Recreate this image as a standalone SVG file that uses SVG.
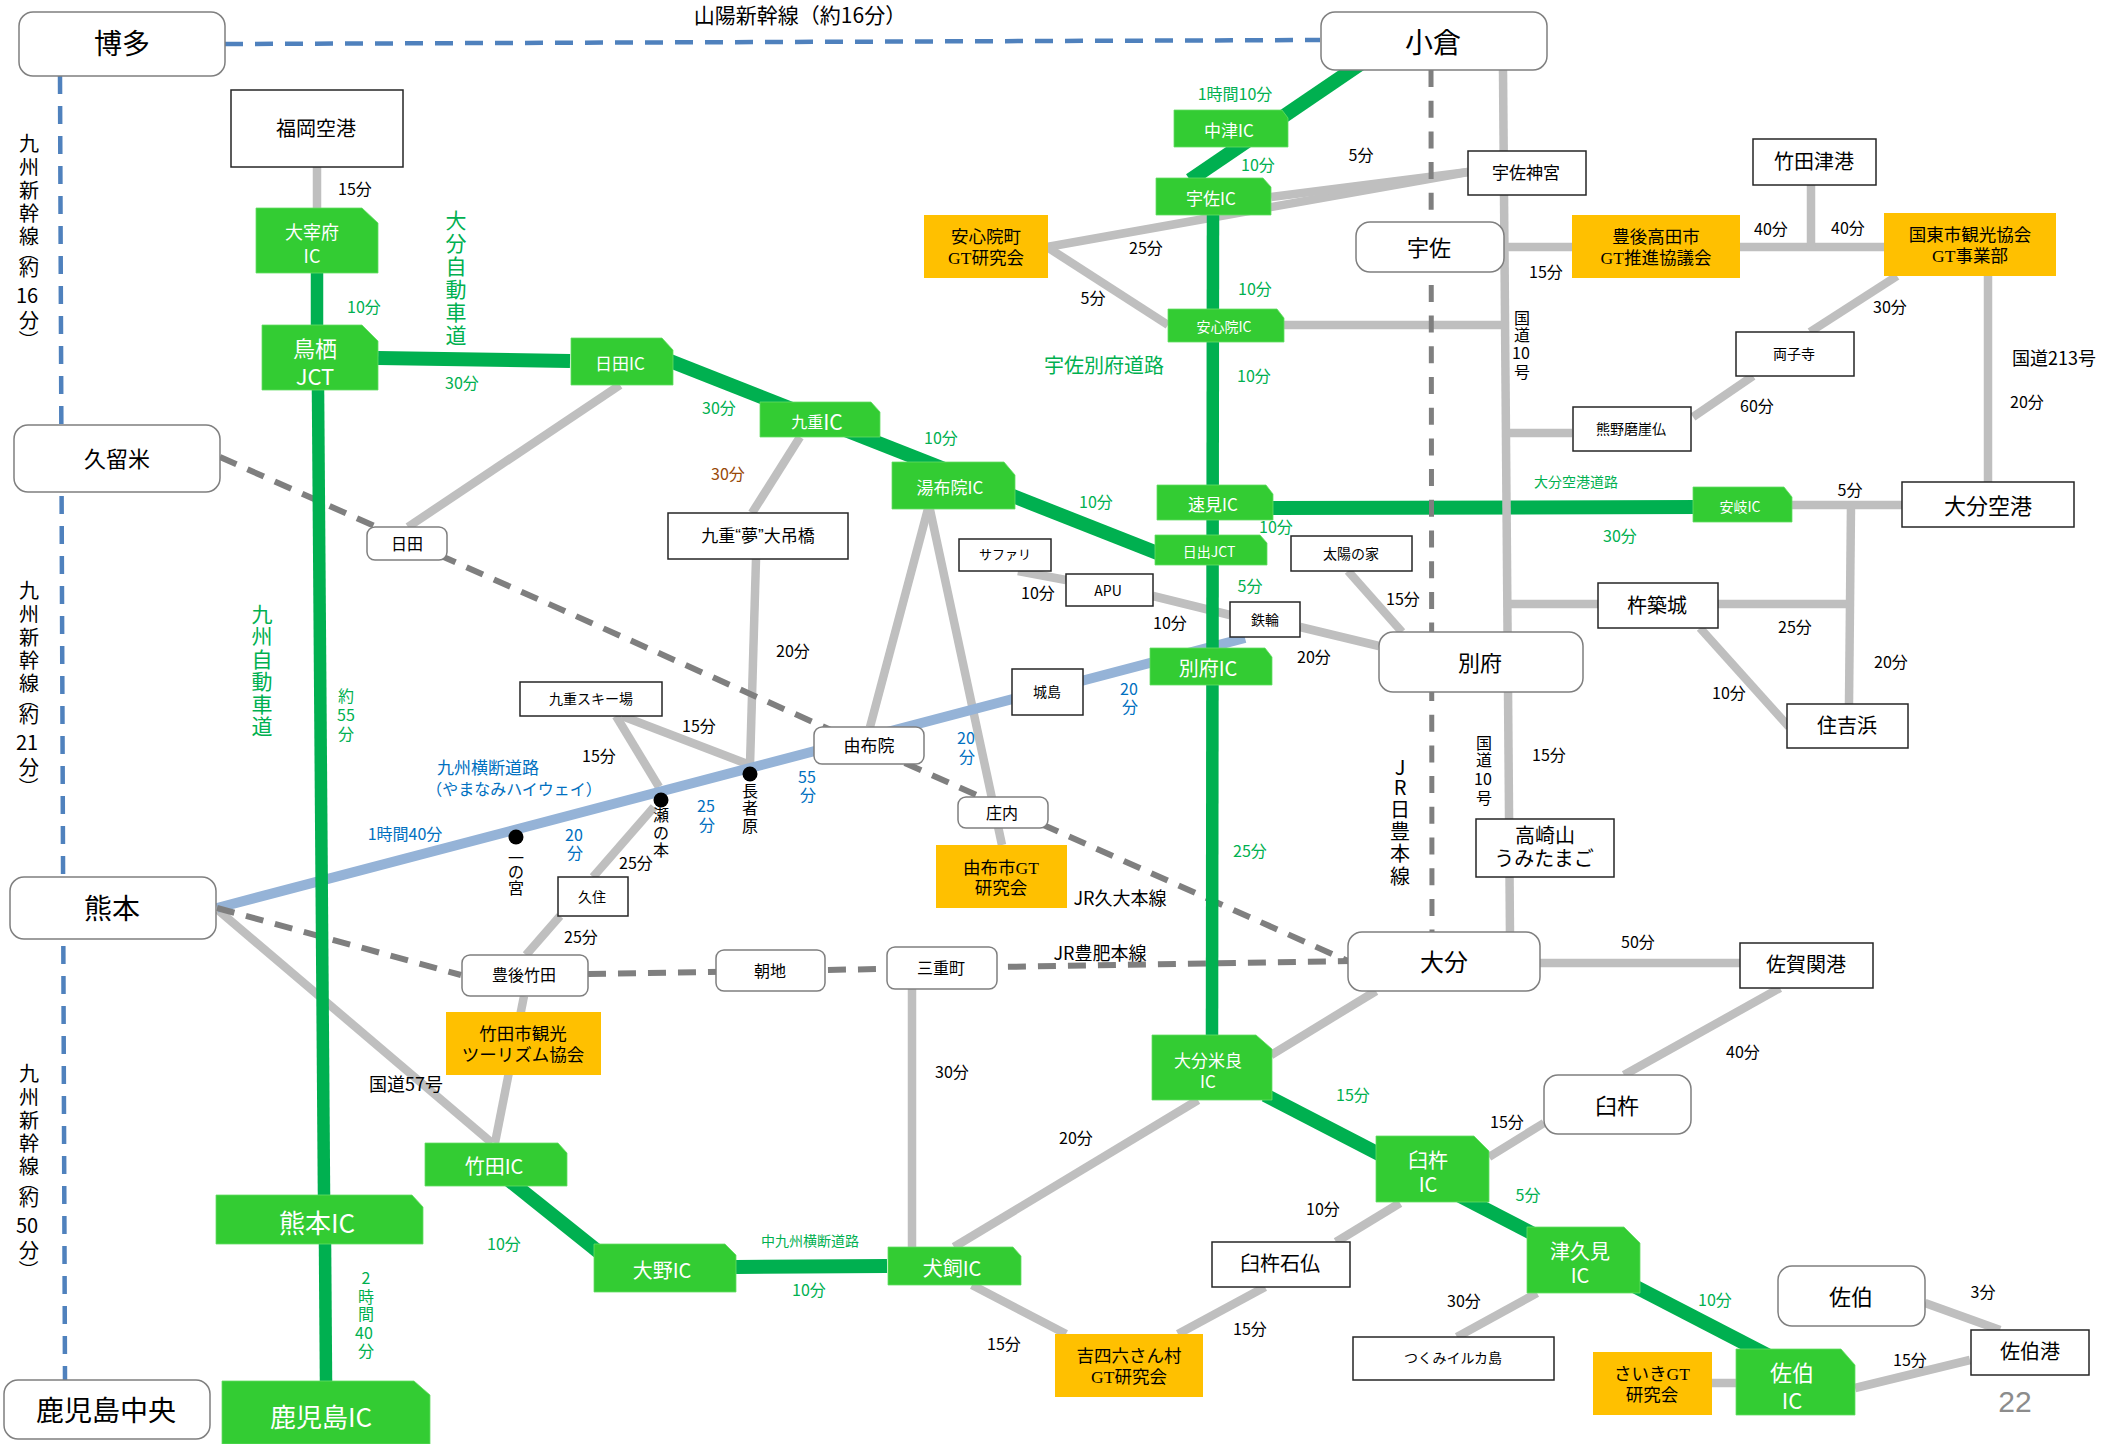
<svg xmlns="http://www.w3.org/2000/svg" width="2118" height="1444" viewBox="0 0 2118 1444">
<style>
text{font-family:"Noto Sans CJK JP","Noto Sans",sans-serif;text-anchor:middle;dominant-baseline:central;fill:#000}
text:not([transform]){transform:translateY(-1.5px)}
text.m{transform:none;font-family:"Liberation Serif","Noto Sans CJK JP",serif;font-size:17.5px}
.w{fill:#fff}.gt{fill:#00b050}.bt{fill:#0070c0}.br{fill:#984807}
.f13{font-size:13px}.f14{font-size:14px}.f16{font-size:16px}.f17{font-size:17px}.f18{font-size:18px}.f20{font-size:20px}.f21{font-size:21px}.f22{font-size:22px}.f24{font-size:24px}.f26{font-size:26px}.f28{font-size:28px}
.c path,.c line{fill:none}
.g{stroke:#bfbfbf;stroke-width:8.5}
.h{stroke:#00b050;stroke-width:14}
.v{stroke:#00b050;stroke-width:12.5}
.b{stroke:#95b3d7;stroke-width:10}
.jr{stroke:#7f7f7f;stroke-width:6;stroke-dasharray:18 12}
.jv{stroke:#7f7f7f;stroke-width:5;stroke-dasharray:17 13.7}
.sk{stroke:#4f81bd;stroke-width:4.5;stroke-dasharray:18 12}
.r{fill:#fff;stroke:#7f7f7f;stroke-width:1.5}
.q{fill:#fff;stroke:#262626;stroke-width:1.5}
.o{fill:#ffc000}
.i{fill:#33cc33;stroke:#66dd66;stroke-width:.8}
</style>
<g id="connectors" class="c">
<line class="h" x1="1273" y1="508" x2="1700" y2="507"/>
<line class="g" x1="317" y1="167" x2="317" y2="208"/>
<line class="g" x1="620" y1="385" x2="408" y2="527"/>
<line class="g" x1="800" y1="437" x2="752" y2="513"/>
<line class="g" x1="756" y1="559" x2="750" y2="765"/>
<line class="g" x1="622" y1="716" x2="750" y2="765"/>
<line class="g" x1="616" y1="716" x2="659" y2="787"/>
<line class="g" x1="654" y1="807" x2="593" y2="877"/>
<line class="g" x1="560" y1="916" x2="526" y2="955"/>
<line class="g" x1="929" y1="505" x2="870" y2="727"/>
<line class="g" x1="929" y1="505" x2="1002" y2="845"/>
<line class="g" x1="218" y1="910" x2="492" y2="1143"/>
<line class="g" x1="524" y1="996" x2="495" y2="1143"/>
<line class="g" x1="1503" y1="70" x2="1510" y2="935"/>
<line class="g" x1="1047" y1="247" x2="1468" y2="172"/>
<line class="g" x1="1271" y1="197" x2="1468" y2="172"/>
<line class="g" x1="1047" y1="247" x2="1168" y2="325"/>
<line class="g" x1="1284" y1="325" x2="1503" y2="325"/>
<line class="g" x1="1500" y1="247" x2="1884" y2="247"/>
<line class="g" x1="1811" y1="185" x2="1811" y2="247"/>
<line class="g" x1="1988" y1="276" x2="1988" y2="482"/>
<line class="g" x1="1897" y1="276" x2="1810" y2="332"/>
<line class="g" x1="1753" y1="376" x2="1693" y2="417"/>
<line class="g" x1="1507" y1="433" x2="1572" y2="433"/>
<line class="g" x1="1792" y1="505" x2="1902" y2="505"/>
<line class="g" x1="1851" y1="505" x2="1849" y2="704"/>
<line class="g" x1="1508" y1="604" x2="1851" y2="604"/>
<line class="g" x1="1700" y1="628" x2="1789" y2="727"/>
<line class="g" x1="1348" y1="571" x2="1402" y2="632"/>
<line class="g" x1="1018" y1="571" x2="1066" y2="580"/>
<line class="g" x1="1153" y1="596" x2="1230" y2="615"/>
<line class="g" x1="1300" y1="627" x2="1379" y2="646"/>
<line class="g" x1="1540" y1="963" x2="1740" y2="963"/>
<line class="g" x1="1780" y1="988" x2="1624" y2="1075"/>
<line class="g" x1="1376" y1="991" x2="1271" y2="1055"/>
<line class="g" x1="1198" y1="1100" x2="954" y2="1247"/>
<line class="g" x1="912" y1="989" x2="912" y2="1247"/>
<line class="g" x1="972" y1="1285" x2="1066" y2="1334"/>
<line class="g" x1="1178" y1="1334" x2="1265" y2="1287"/>
<line class="g" x1="1336" y1="1242" x2="1400" y2="1203"/>
<line class="g" x1="1489" y1="1157" x2="1544" y2="1123"/>
<line class="g" x1="1537" y1="1293" x2="1457" y2="1337"/>
<line class="g" x1="1712" y1="1383" x2="1736" y2="1383"/>
<line class="g" x1="1925" y1="1303" x2="2000" y2="1330"/>
<line class="g" x1="1855" y1="1388" x2="1970" y2="1360"/>
<line class="b" x1="217" y1="908" x2="1245" y2="638"/>
<line class="jr" x1="220" y1="457" x2="1350" y2="962"/>
<line class="jr" x1="217" y1="908" x2="461" y2="975"/>
<line class="jr" x1="588" y1="974" x2="1350" y2="961"/>
<line class="v" x1="317" y1="273" x2="317" y2="325"/>
<line class="v" x1="318" y1="390" x2="324" y2="1195"/>
<line class="v" x1="325" y1="1244" x2="326" y2="1381"/>
<line class="h" x1="378" y1="358" x2="570" y2="361"/>
<line class="h" x1="660" y1="357" x2="1170" y2="558"/>
<line class="h" x1="1384" y1="48" x2="1190" y2="180"/>
<line class="v" x1="1213" y1="215" x2="1212" y2="1035"/>
<line class="h" x1="500" y1="1173" x2="610" y2="1261"/>
<line class="h" x1="736" y1="1267" x2="887" y2="1266"/>
<line class="h" x1="1265" y1="1095" x2="1775" y2="1359"/>
<line class="sk" x1="225" y1="44" x2="1320" y2="40"/>
<line class="sk" x1="60" y1="76" x2="65" y2="1380"/>
<line class="jv" x1="1431" y1="70" x2="1432" y2="932"/>
</g>
<g id="n-hakata"><rect class="r" x="19" y="12" width="206" height="64" rx="14"/><text class="f28" x="122" y="43">博多</text></g>
<g id="n-kurume"><rect class="r" x="14" y="425" width="206" height="67" rx="14"/><text class="f22" x="117" y="458">久留米</text></g>
<g id="n-kumamoto"><rect class="r" x="10" y="877" width="206" height="62" rx="14"/><text class="f28" x="112" y="908">熊本</text></g>
<g id="n-kagoshima"><rect class="r" x="4" y="1380" width="206" height="59" rx="14"/><text class="f28" x="106" y="1410">鹿児島中央</text></g>
<g id="n-kokura"><rect class="r" x="1321" y="12" width="226" height="58" rx="14"/><text class="f28" x="1433" y="42">小倉</text></g>
<g id="n-usa"><rect class="r" x="1356" y="222" width="148" height="50" rx="14"/><text class="f22" x="1429" y="247">宇佐</text></g>
<g id="n-beppu"><rect class="r" x="1379" y="632" width="204" height="60" rx="14"/><text class="f22" x="1480" y="662">別府</text></g>
<g id="n-oita"><rect class="r" x="1348" y="932" width="192" height="59" rx="14"/><text class="f24" x="1444" y="962">大分</text></g>
<g id="n-usuki"><rect class="r" x="1544" y="1075" width="147" height="59" rx="14"/><text class="f22" x="1617" y="1105">臼杵</text></g>
<g id="n-saiki"><rect class="r" x="1778" y="1266" width="147" height="60" rx="14"/><text class="f22" x="1851" y="1296">佐伯</text></g>
<g id="n-hita"><rect class="r" x="367" y="527" width="80" height="33" rx="8"/><text class="f16" x="407" y="544">日田</text></g>
<g id="n-yufuin"><rect class="r" x="814" y="727" width="110" height="37" rx="8"/><text class="f17" x="869" y="746">由布院</text></g>
<g id="n-shonai"><rect class="r" x="958" y="797" width="90" height="31" rx="8"/><text class="f16" x="1002" y="813">庄内</text></g>
<g id="n-bungotaketa"><rect class="r" x="462" y="955" width="126" height="41" rx="8"/><text class="f16" x="524" y="975">豊後竹田</text></g>
<g id="n-asaji"><rect class="r" x="716" y="950" width="109" height="41" rx="8"/><text class="f16" x="770" y="971">朝地</text></g>
<g id="n-mie"><rect class="r" x="887" y="947" width="110" height="42" rx="8"/><text class="f16" x="941" y="968">三重町</text></g>
<g id="n-fukuoka"><rect class="q" x="231" y="90" width="172" height="77"/><text class="f20" x="316" y="129">福岡空港</text></g>
<g id="n-usajingu"><rect class="q" x="1468" y="151" width="118" height="44"/><text class="f17" x="1526" y="173">宇佐神宮</text></g>
<g id="n-takedatsu"><rect class="q" x="1753" y="139" width="123" height="46"/><text class="f20" x="1814" y="162">竹田津港</text></g>
<g id="n-futago"><rect class="q" x="1736" y="332" width="118" height="44"/><text class="f14" x="1794" y="354">両子寺</text></g>
<g id="n-kumano"><rect class="q" x="1573" y="407" width="118" height="44"/><text class="f14" x="1631" y="429">熊野磨崖仏</text></g>
<g id="n-oitaairport"><rect class="q" x="1902" y="482" width="172" height="45"/><text class="f22" x="1988" y="505">大分空港</text></g>
<g id="n-kitsuki"><rect class="q" x="1598" y="583" width="120" height="45"/><text class="f20" x="1657" y="606">杵築城</text></g>
<g id="n-sumiyoshi"><rect class="q" x="1787" y="704" width="121" height="44"/><text class="f20" x="1847" y="726">住吉浜</text></g>
<g id="n-taiyo"><rect class="q" x="1291" y="536" width="121" height="35"/><text class="f14" x="1351" y="554">太陽の家</text></g>
<g id="n-kannawa"><rect class="q" x="1230" y="602" width="70" height="35"/><text class="f14" x="1265" y="620">鉄輪</text></g>
<g id="n-apu"><rect class="q" x="1066" y="574" width="87" height="32"/><text class="f14" x="1108" y="591">APU</text></g>
<g id="n-safari"><rect class="q" x="959" y="539" width="92" height="32"/><text class="f13" x="1005" y="555">サファリ</text></g>
<g id="n-jojima"><rect class="q" x="1012" y="669" width="71" height="46"/><text class="f14" x="1047" y="692">城島</text></g>
<g id="n-yume"><rect class="q" x="668" y="513" width="180" height="46"/><text class="f17" x="758" y="536">九重<tspan font-family="Liberation Sans">“</tspan>夢<tspan font-family="Liberation Sans">”</tspan>大吊橋</text></g>
<g id="n-ski"><rect class="q" x="520" y="682" width="142" height="34"/><text class="f14" x="591" y="699">九重スキー場</text></g>
<g id="n-kuju"><rect class="q" x="558" y="877" width="70" height="39"/><text class="f14" x="592" y="897">久住</text></g>
<g id="n-takasaki"><rect class="q" x="1476" y="819" width="138" height="58"/><text class="f20" x="1545" y="836">高崎山</text><text class="f20" x="1544" y="859">うみたまご</text></g>
<g id="n-saganoseki"><rect class="q" x="1740" y="943" width="133" height="45"/><text class="f20" x="1806" y="965">佐賀関港</text></g>
<g id="n-sekibutsu"><rect class="q" x="1212" y="1242" width="138" height="45"/><text class="f20" x="1280" y="1264">臼杵石仏</text></g>
<g id="n-tsukumi"><rect class="q" x="1353" y="1337" width="201" height="43"/><text class="f14" x="1453" y="1358">つくみイルカ島</text></g>
<g id="n-saikiport"><rect class="q" x="1971" y="1330" width="118" height="45"/><text class="f20" x="2030" y="1352">佐伯港</text></g>
<g id="n-ajimu"><rect class="o" x="924" y="215" width="124" height="63"/><text class="m" x="986" y="237">安心院町</text><text class="m" x="986" y="258">GT研究会</text></g>
<g id="n-takada"><rect class="o" x="1572" y="215" width="168" height="63"/><text class="m" x="1656" y="237">豊後高田市</text><text class="m" x="1656" y="258">GT推進協議会</text></g>
<g id="n-kunisaki"><rect class="o" x="1884" y="213" width="172" height="63"/><text class="m" x="1970" y="235">国東市観光協会</text><text class="m" x="1970" y="256">GT事業部</text></g>
<g id="n-yufugt"><rect class="o" x="936" y="845" width="131" height="63"/><text class="m" x="1001" y="868">由布市GT</text><text class="m" x="1001" y="888">研究会</text></g>
<g id="n-taketagt"><rect class="o" x="446" y="1012" width="155" height="63"/><text class="m" x="523" y="1034">竹田市観光</text><text class="m" x="523" y="1055">ツーリズム協会</text></g>
<g id="n-kicchomu"><rect class="o" x="1055" y="1334" width="148" height="63"/><text class="m" x="1129" y="1356">吉四六さん村</text><text class="m" x="1129" y="1377">GT研究会</text></g>
<g id="n-saikigt"><rect class="o" x="1593" y="1352" width="119" height="63"/><text class="m" x="1652" y="1374">さいきGT</text><text class="m" x="1652" y="1395">研究会</text></g>
<g id="n-dazaifu"><path class="i" d="M256 208H362L378 223V273H256Z"/><text class="f18 w" x="312" y="232">大宰府</text><text class="f18 w" x="312" y="256">IC</text></g>
<g id="n-tosu"><path class="i" d="M262 325H362L378 341V390H262Z"/><text class="f22 w" x="315" y="348">鳥栖</text><text class="f22 w" x="315" y="376">JCT</text></g>
<g id="n-hitaic"><path class="i" d="M571 338H662L673 350V385H571Z"/><text class="f17 w" x="620" y="364">日田IC</text></g>
<g id="n-kokonoeic"><path class="i" d="M760 402H871L880 412V437H760Z"/><text class="f16 w" x="817" y="422">九重<tspan class="f21">IC</tspan></text></g>
<g id="n-yufuinic"><path class="i" d="M892 462H1004L1015 475V509H892Z"/><text class="f17 w" x="950" y="488">湯布院IC</text></g>
<g id="n-nakatsuic"><path class="i" d="M1174 110H1282L1288 118V147H1174Z"/><text class="f17 w" x="1229" y="131">中津IC</text></g>
<g id="n-usaic"><path class="i" d="M1156 178H1263L1271 187V215H1156Z"/><text class="f17 w" x="1211" y="199">宇佐IC</text></g>
<g id="n-ajimuic"><path class="i" d="M1168 309H1277L1284 318V342H1168Z"/><text class="f14 w" x="1224" y="327">安心院IC</text></g>
<g id="n-hayamiic"><path class="i" d="M1157 485H1266L1273 494V520H1157Z"/><text class="f17 w" x="1213" y="505">速見IC</text></g>
<g id="n-hijijct"><path class="i" d="M1155 535H1260L1267 543V565H1155Z"/><text class="f14 w" x="1209" y="552">日出JCT</text></g>
<g id="n-beppuic"><path class="i" d="M1150 648H1265L1272 657V685H1150Z"/><text class="f20 w" x="1208" y="669">別府IC</text></g>
<g id="n-akiic"><path class="i" d="M1693 487H1784L1792 497V522H1693Z"/><text class="f14 w" x="1740" y="507">安岐IC</text></g>
<g id="n-kumamotoic"><path class="i" d="M216 1195H412L423 1207V1244H216Z"/><text class="f26 w" x="317" y="1223">熊本IC</text></g>
<g id="n-kagoshimaic"><path class="i" d="M222 1381H414L430 1395V1444H222Z"/><text class="f26 w" x="321" y="1417">鹿児島IC</text></g>
<g id="n-taketaic"><path class="i" d="M425 1143H558L567 1153V1186H425Z"/><text class="f20 w" x="494" y="1167">竹田IC</text></g>
<g id="n-onoic"><path class="i" d="M594 1244H725L736 1255V1292H594Z"/><text class="f20 w" x="662" y="1271">大野IC</text></g>
<g id="n-inukaiic"><path class="i" d="M888 1247H1013L1021 1256V1285H888Z"/><text class="f20 w" x="952" y="1269">犬飼IC</text></g>
<g id="n-merac"><path class="i" d="M1152 1035H1256L1272 1049V1100H1152Z"/><text class="f17 w" x="1208" y="1061">大分米良</text><text class="f17 w" x="1208" y="1082">IC</text></g>
<g id="n-usukiic"><path class="i" d="M1376 1136H1474L1489 1151V1202H1376Z"/><text class="f20 w" x="1428" y="1161">臼杵</text><text class="f20 w" x="1428" y="1185">IC</text></g>
<g id="n-tsukumiic"><path class="i" d="M1527 1227H1624L1640 1243V1293H1527Z"/><text class="f20 w" x="1580" y="1252">津久見</text><text class="f20 w" x="1580" y="1276">IC</text></g>
<g id="n-saikiic"><path class="i" d="M1736 1349H1841L1855 1365V1415H1736Z"/><text class="f22 w" x="1792" y="1372">佐伯</text><text class="f22 w" x="1792" y="1400">IC</text></g>
<g id="labels">
<text class="f21" x="800" y="15">山陽新幹線（約16分）</text>
<text class="f20"><tspan x="29" y="143">九</tspan><tspan x="29" y="167">州</tspan><tspan x="29" y="190">新</tspan><tspan x="29" y="213">幹</tspan><tspan x="29" y="236">線</tspan><tspan x="29" y="268">約</tspan><tspan x="27" y="295">16</tspan><tspan x="29" y="320">分</tspan></text>
<text class="f20" transform="translate(29 252) rotate(90)">（</text><text class="f20" transform="translate(29 340) rotate(90)">）</text>
<text class="f20"><tspan x="29" y="590">九</tspan><tspan x="29" y="614">州</tspan><tspan x="29" y="637">新</tspan><tspan x="29" y="660">幹</tspan><tspan x="29" y="683">線</tspan><tspan x="29" y="715">約</tspan><tspan x="27" y="742">21</tspan><tspan x="29" y="767">分</tspan></text>
<text class="f20" transform="translate(29 699) rotate(90)">（</text><text class="f20" transform="translate(29 787) rotate(90)">）</text>
<text class="f20"><tspan x="29" y="1073">九</tspan><tspan x="29" y="1097">州</tspan><tspan x="29" y="1120">新</tspan><tspan x="29" y="1143">幹</tspan><tspan x="29" y="1166">線</tspan><tspan x="29" y="1198">約</tspan><tspan x="27" y="1225">50</tspan><tspan x="29" y="1250">分</tspan></text>
<text class="f20" transform="translate(29 1182) rotate(90)">（</text><text class="f20" transform="translate(29 1270) rotate(90)">）</text>
<text class="f21 gt"><tspan x="456" y="220">大</tspan><tspan x="456" y="243">分</tspan><tspan x="456" y="266">自</tspan><tspan x="456" y="289">動</tspan><tspan x="456" y="312">車</tspan><tspan x="456" y="335">道</tspan></text>
<text class="f21 gt"><tspan x="262" y="614">九</tspan><tspan x="262" y="636">州</tspan><tspan x="262" y="659">自</tspan><tspan x="262" y="681">動</tspan><tspan x="262" y="704">車</tspan><tspan x="262" y="726">道</tspan></text>
<text class="f16 gt"><tspan x="346" y="696">約</tspan><tspan x="346" y="715">55</tspan><tspan x="346" y="734">分</tspan></text>
<text class="f16 gt"><tspan x="366" y="1278">2</tspan><tspan x="366" y="1297">時</tspan><tspan x="366" y="1314">間</tspan><tspan x="364" y="1333">40</tspan><tspan x="366" y="1351">分</tspan></text>
<text class="f16"><tspan x="516" y="858">一</tspan><tspan x="516" y="872">の</tspan><tspan x="516" y="888">宮</tspan></text>
<text class="f16"><tspan x="661" y="815">瀬</tspan><tspan x="661" y="833">の</tspan><tspan x="661" y="850">本</tspan></text>
<text class="f16"><tspan x="750" y="791">長</tspan><tspan x="750" y="808">者</tspan><tspan x="750" y="826">原</tspan></text>
<text class="f16"><tspan x="1522" y="318">国</tspan><tspan x="1522" y="335">道</tspan><tspan x="1521" y="353">10</tspan><tspan x="1522" y="372">号</tspan></text>
<text class="f16"><tspan x="1484" y="743">国</tspan><tspan x="1484" y="760">道</tspan><tspan x="1483" y="779">10</tspan><tspan x="1484" y="798">号</tspan></text>
<text class="f20"><tspan x="1400" y="767">J</tspan><tspan x="1400" y="787">R</tspan><tspan x="1400" y="809">日</tspan><tspan x="1400" y="831">豊</tspan><tspan x="1400" y="853">本</tspan><tspan x="1400" y="876">線</tspan></text>
<text class="f16 bt"><tspan x="574" y="835">20</tspan><tspan x="575" y="853">分</tspan></text>
<text class="f16 bt"><tspan x="706" y="806">25</tspan><tspan x="707" y="825">分</tspan></text>
<text class="f16 bt"><tspan x="807" y="777">55</tspan><tspan x="808" y="795">分</tspan></text>
<text class="f16 bt"><tspan x="966" y="738">20</tspan><tspan x="967" y="757">分</tspan></text>
<text class="f16 bt"><tspan x="1129" y="689">20</tspan><tspan x="1130" y="707">分</tspan></text>
<text class="f17 bt" x="488" y="768">九州横断道路</text>
<text class="f16 bt" x="514" y="789">（やまなみハイウェイ）</text>
<text class="f16 bt" x="405" y="834">1時間40分</text>
<text class="f16" x="355" y="189">15分</text><text class="f16" x="1361" y="155">5分</text><text class="f16" x="1146" y="248">25分</text><text class="f16" x="1093" y="298">5分</text>
<text class="f16" x="1546" y="272">15分</text><text class="f16" x="1771" y="229">40分</text><text class="f16" x="1848" y="228">40分</text><text class="f16" x="1890" y="307">30分</text><text class="f16" x="1757" y="406">60分</text>
<text class="f18" x="2054" y="358">国道213号</text><text class="f16" x="2027" y="402">20分</text><text class="f16" x="1850" y="490">5分</text>
<text class="f16" x="793" y="651">20分</text><text class="f16" x="699" y="726">15分</text><text class="f16" x="599" y="756">15分</text><text class="f16" x="636" y="863">25分</text><text class="f16" x="581" y="937">25分</text>
<text class="f16" x="1038" y="593">10分</text><text class="f16" x="1170" y="623">10分</text><text class="f16" x="1314" y="657">20分</text><text class="f16" x="1403" y="599">15分</text><text class="f16" x="1549" y="755">15分</text>
<text class="f16" x="1795" y="627">25分</text><text class="f16" x="1891" y="662">20分</text><text class="f16" x="1729" y="693">10分</text><text class="f16" x="1638" y="942">50分</text>
<text class="f18" x="1120" y="898">JR久大本線</text><text class="f18" x="1100" y="953">JR豊肥本線</text><text class="f18" x="406" y="1084">国道57号</text>
<text class="f16" x="952" y="1072">30分</text><text class="f16" x="1076" y="1138">20分</text><text class="f16" x="1004" y="1344">15分</text><text class="f16" x="1323" y="1209">10分</text><text class="f16" x="1250" y="1329">15分</text>
<text class="f16" x="1743" y="1052">40分</text><text class="f16" x="1507" y="1122">15分</text><text class="f16" x="1464" y="1301">30分</text><text class="f16" x="1910" y="1360">15分</text><text class="f16" x="1983" y="1292">3分</text>
<text class="f16 gt" x="364" y="307">10分</text><text class="f16 gt" x="462" y="383">30分</text><text class="f16 gt" x="719" y="408">30分</text><text class="f16 gt" x="1235" y="94">1時間10分</text><text class="f16 gt" x="1258" y="165">10分</text>
<text class="f16 gt" x="1255" y="289">10分</text><text class="f16 gt" x="1254" y="376">10分</text><text class="f16 gt" x="941" y="438">10分</text><text class="f20 gt" x="1104" y="366">宇佐別府道路</text>
<text class="f16 gt" x="1096" y="502">10分</text><text class="f16 gt" x="1276" y="527">10分</text><text class="f16 gt" x="1250" y="586">5分</text><text class="f16 gt" x="1620" y="536">30分</text><text class="f16 gt" x="1250" y="851">25分</text>
<text class="f14 gt" x="1576" y="482">大分空港道路</text><text class="f16 gt" x="504" y="1244">10分</text><text class="f14 gt" x="810" y="1241">中九州横断道路</text><text class="f16 gt" x="809" y="1290">10分</text>
<text class="f16 gt" x="1353" y="1095">15分</text><text class="f16 gt" x="1528" y="1195">5分</text><text class="f16 gt" x="1715" y="1300">10分</text>
<text class="f16 br" x="728" y="474">30分</text>
<text style="font-size:30px;fill:#8c8c8c;font-family:'Liberation Sans',sans-serif" x="2015" y="1403">22</text>
</g>
<g id="dots"><circle cx="516" cy="837" r="7.5"/><circle cx="661" cy="800" r="7.5"/><circle cx="750" cy="774" r="7.5"/></g>
</svg>
